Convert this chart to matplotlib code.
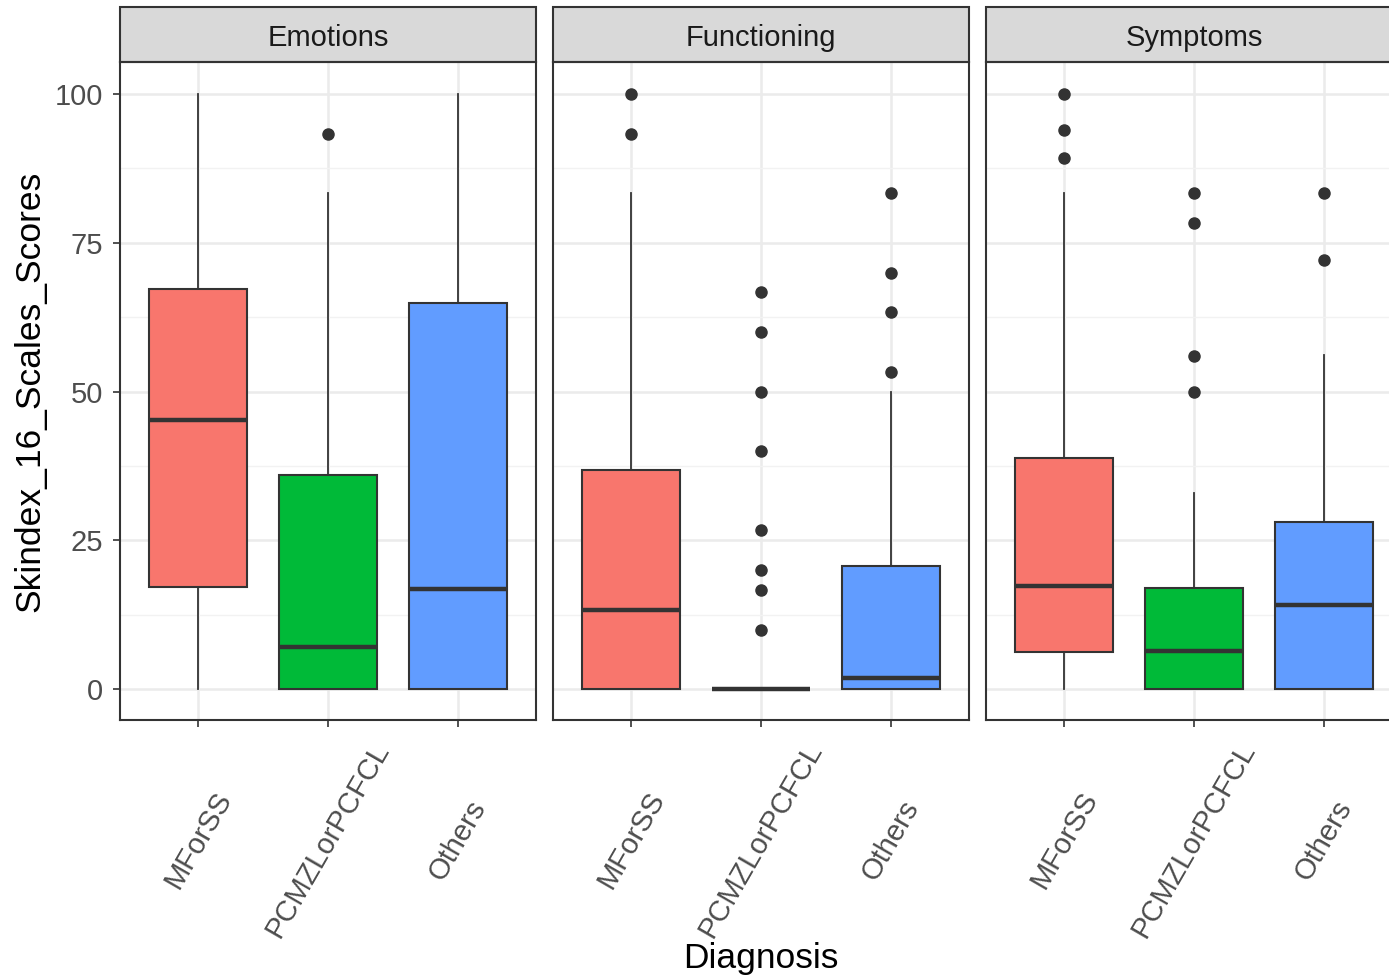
import matplotlib
matplotlib.use("Agg")
import matplotlib.pyplot as plt
from matplotlib.patches import Rectangle

plt.rcParams['font.family'] = ['Liberation Sans', 'DejaVu Sans']

FACETS = ['Emotions', 'Functioning', 'Symptoms']
DIAGNOSES = ['MForSS', 'PCMZLorPCFCL', 'Others']
FILLS = ['#F8766D', '#00BA38', '#619CFF']

# box statistics (one value per diagnosis)
emotions_lo = [0, 0, 0]
emotions_q1 = [17.1, 0, 0]
emotions_med = [45.2, 7.1, 16.8]
emotions_q3 = [67.2, 36.0, 64.9]
emotions_hi = [100, 83.3, 100]
emotions_out = [[], [93.3], []]

functioning_lo = [0, 0, 0]
functioning_q1 = [0, 0, 0]
functioning_med = [13.3, 0, 1.8]
functioning_q3 = [36.8, 0, 20.7]
functioning_hi = [83.3, 0, 50]
functioning_out = [[100, 93.3],
                   [66.7, 60, 50, 40, 26.7, 20, 16.7, 10],
                   [83.3, 70, 63.3, 53.3]]

symptoms_lo = [0, 0, 0]
symptoms_q1 = [6.2, 0, 0]
symptoms_med = [17.3, 6.4, 14.1]
symptoms_q3 = [38.8, 17.0, 28.1]
symptoms_hi = [83.3, 32.9, 56.1]
symptoms_out = [[100, 93.9, 89.2], [83.3, 78.3, 56.0, 50], [83.3, 72.1]]

Y_TICKS = [0, 25, 50, 75, 100]

facet_data = [
    (emotions_lo, emotions_q1, emotions_med, emotions_q3, emotions_hi, emotions_out),
    (functioning_lo, functioning_q1, functioning_med, functioning_q3, functioning_hi, functioning_out),
    (symptoms_lo, symptoms_q1, symptoms_med, symptoms_q3, symptoms_hi, symptoms_out),
]

W, H = 1389, 980
fig = plt.figure(figsize=(W / 100, H / 100), dpi=100)
fig.patch.set_facecolor('white')

panel_left = [120, 553, 986]
panel_w, panel_top, panel_bot = 416, 62, 720
strip_h = 55
dark = '#333333'

for k, facet in enumerate(FACETS):
    ax = fig.add_axes([panel_left[k] / W, 1 - panel_bot / H,
                       panel_w / W, (panel_bot - panel_top) / H])
    lo, q1, med, q3, hi, out = facet_data[k]
    stats = []
    for i in range(len(DIAGNOSES)):
        stats.append(dict(whislo=lo[i], q1=q1[i], med=med[i], q3=q3[i],
                          whishi=hi[i], fliers=out[i], label=DIAGNOSES[i]))
    bp = ax.bxp(stats, positions=[1, 2, 3], widths=0.75, patch_artist=True,
                showcaps=False,
                boxprops=dict(edgecolor=dark, linewidth=1.5),
                medianprops=dict(color=dark, linewidth=3.2, solid_capstyle='butt'),
                whiskerprops=dict(color=dark, linewidth=1.3),
                flierprops=dict(marker='o', markerfacecolor=dark,
                                markeredgecolor=dark, markersize=8))
    for patch, c in zip(bp['boxes'], FILLS):
        patch.set_facecolor(c)
        patch.set_zorder(3)
    for ln in bp['medians'] + bp['whiskers'] + bp['fliers']:
        ln.set_zorder(4)

    ax.set_xlim(0.4, 3.6)
    ax.set_ylim(-5.2, 105.4)
    ax.set_yticks(Y_TICKS)
    ax.set_yticks([12.5, 37.5, 62.5, 87.5], minor=True)
    ax.set_xticks([1, 2, 3])
    ax.set_xticklabels([])
    ax.set_axisbelow(True)
    ax.grid(which='major', color='#EBEBEB', linewidth=1.8)
    ax.grid(which='minor', axis='y', color='#F2F2F2', linewidth=1.0)
    ax.tick_params(axis='x', which='major', length=5, width=1.2, color=dark)
    ax.tick_params(axis='y', which='minor', length=0)
    if k == 0:
        ax.tick_params(axis='y', which='major', length=5, width=1.2, color=dark,
                       labelsize=21, labelcolor='#4D4D4D', pad=7)
    else:
        ax.tick_params(axis='y', which='major', length=0, labelleft=False)
    for sp in ax.spines.values():
        sp.set_color(dark)
        sp.set_linewidth(1.5)

    for i, name in enumerate(DIAGNOSES):
        ax.text(i + 1, -120 / 658, name, rotation=60, ha='center', va='center',
                rotation_mode='anchor', fontsize=21, color='#4D4D4D',
                transform=ax.get_xaxis_transform())

    # facet strip
    sh = strip_h / (panel_bot - panel_top)
    ax.add_patch(Rectangle((0, 1), 1, sh, transform=ax.transAxes,
                           facecolor='#D9D9D9', edgecolor=dark, linewidth=1.5,
                           clip_on=False))
    ax.text(0.5, 1 + (strip_h / 2 - 4) / (panel_bot - panel_top), facet,
            transform=ax.transAxes, ha='center', va='center', fontsize=21,
            color='#1A1A1A')

fig.text(30 / W, 1 - 391 / H, 'Skindex_16_Scales_Scores', rotation=90,
         ha='center', va='center', fontsize=25.5, color='black')
fig.text(761 / W, 1 - 958 / H, 'Diagnosis', ha='center', va='center',
         fontsize=25.5, color='black')

fig.savefig('out.png', dpi=100, facecolor='white')
